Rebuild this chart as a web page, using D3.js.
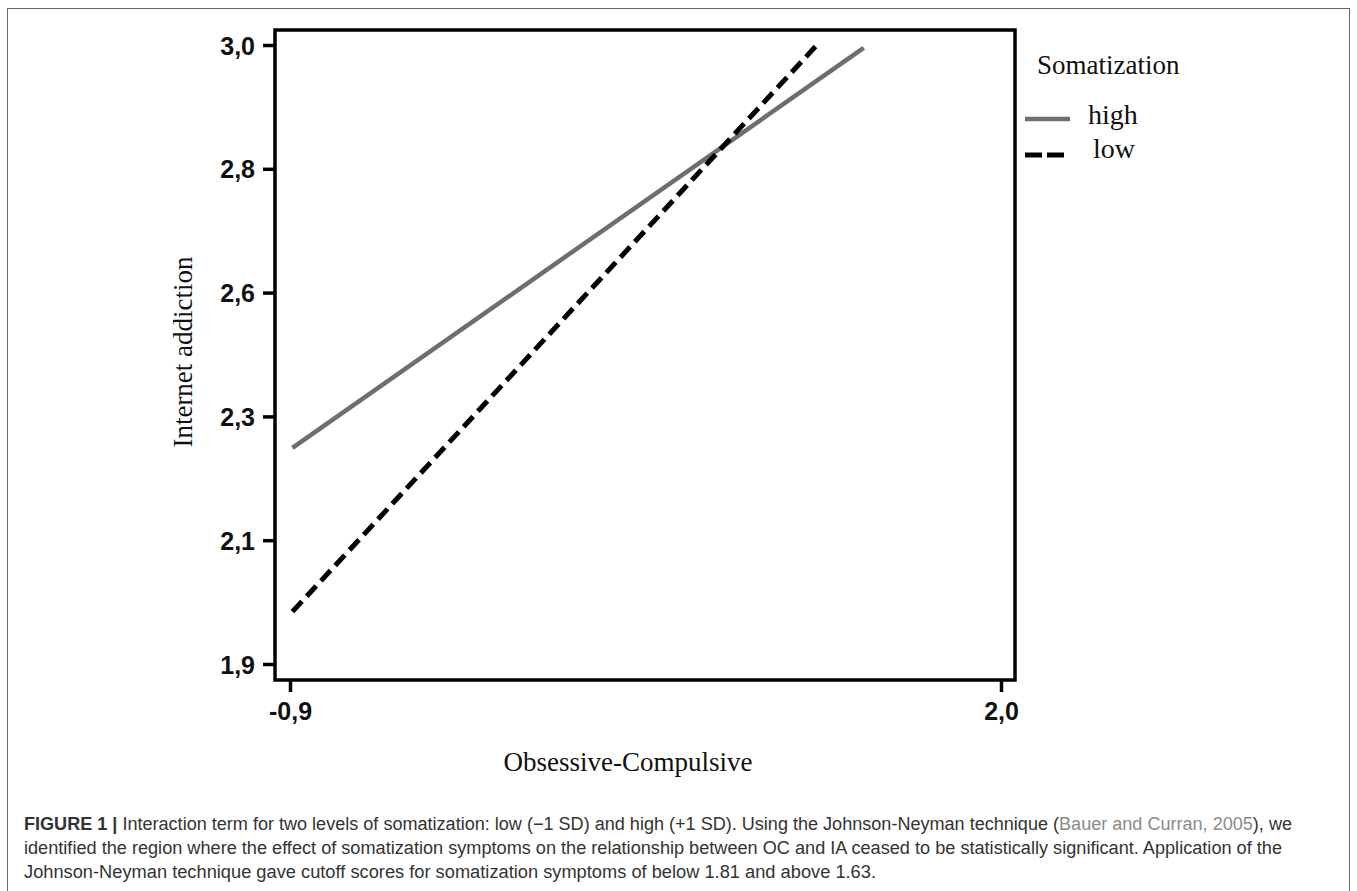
<!DOCTYPE html>
<html><head><meta charset="utf-8">
<script src="https://cdn.jsdelivr.net/npm/d3@7/dist/d3.min.js"></script>
<style>
html,body{margin:0;padding:0;background:#fff;}
svg{display:block;}
</style></head>
<body>
<svg id="chart" width="1357" height="891"></svg>
<script>
// ---- data ----
const seriesNames = ["high", "low"];
const highX = [-0.89, 1.44];
const highY = [2.284, 2.995];
const lowX = [-0.89, 1.245];
const lowY = [1.993, 2.998];
const yTickValues = [1.9, 2.12, 2.34, 2.56, 2.78, 3.0];
const yTickLabels = ["1,9", "2,1", "2,3", "2,6", "2,8", "3,0"];
const xTickValues = [-0.9, 2.0];
const xTickLabels = ["-0,9", "2,0"];
const xTitle = "Obsessive-Compulsive";
const yTitle = "Internet addiction";
const legendTitle = "Somatization";
const captionLines = [
  [["b","FIGURE 1 | "],["t","Interaction term for two levels of somatization: low (\u22121 SD) and high (+1 SD). Using the Johnson-Neyman technique ("],["l","Bauer and Curran, 2005"],["t","), we"]],
  [["t","identified the region where the effect of somatization symptoms on the relationship between OC and IA ceased to be statistically significant. Application of the"]],
  [["t","Johnson-Neyman technique gave cutoff scores for somatization symptoms of below 1.81 and above 1.63."]]
];

// ---- layout ----
const svg = d3.select("#chart");
const frame = {l: 275, r: 1015, t: 30, b: 680};
const x = d3.scaleLinear().domain([-0.9, 2.0]).range([290, 1001]);
const y = d3.scaleLinear().domain([1.9, 3.0]).range([664, 45]);

// outer border
svg.append("rect").attr("x", 7.5).attr("y", 8.5).attr("width", 1342).attr("height", 900)
  .attr("fill", "none").attr("stroke", "#666").attr("stroke-width", 1);

// frame
svg.append("rect").attr("x", frame.l).attr("y", frame.t)
  .attr("width", frame.r - frame.l).attr("height", frame.b - frame.t)
  .attr("fill", "none").attr("stroke", "#000").attr("stroke-width", 3.5);

// y axis
const yAxis = d3.axisLeft(y).tickValues(yTickValues)
  .tickFormat((d, i) => yTickLabels[i]).tickSize(12).tickPadding(8);
const gy = svg.append("g").attr("transform", `translate(${frame.l},0)`).call(yAxis);
gy.select(".domain").remove();
gy.selectAll(".tick line").attr("stroke", "#000").attr("stroke-width", 3.5);
gy.selectAll(".tick text").attr("font-family", "Liberation Sans, Arial, sans-serif")
  .attr("font-weight", "bold").attr("font-size", 25).attr("fill", "#111").attr("dy", "0.36em");

// x axis
const xAxis = d3.axisBottom(x).tickValues(xTickValues)
  .tickFormat((d, i) => xTickLabels[i]).tickSize(12).tickPadding(10);
const gx = svg.append("g").attr("transform", `translate(0,${frame.b})`).call(xAxis);
gx.select(".domain").remove();
gx.selectAll(".tick line").attr("stroke", "#000").attr("stroke-width", 3.5);
gx.selectAll(".tick text").attr("font-family", "Liberation Sans, Arial, sans-serif")
  .attr("font-weight", "bold").attr("font-size", 25).attr("fill", "#111");

// axis titles
svg.append("text").attr("x", 628).attr("y", 771).attr("text-anchor", "middle")
  .attr("font-family", "Liberation Serif, Times New Roman, serif").attr("font-size", 27)
  .attr("fill", "#111").text(xTitle);
svg.append("text").attr("transform", "translate(192,352) rotate(-90)").attr("text-anchor", "middle")
  .attr("font-family", "Liberation Serif, Times New Roman, serif").attr("font-size", 27)
  .attr("fill", "#111").text(yTitle);

// lines
const line = d3.line().x(d => x(d[0])).y(d => y(d[1]));
const highData = highX.map((v, i) => [v, highY[i]]);
const lowData = lowX.map((v, i) => [v, lowY[i]]);
svg.append("path").datum(highData).attr("d", line).attr("fill", "none")
  .attr("stroke", "#6e6e6e").attr("stroke-width", 4.5);
svg.append("path").datum(lowData).attr("d", line).attr("fill", "none")
  .attr("stroke", "#000").attr("stroke-width", 5).attr("stroke-dasharray", "14,7");

// legend
svg.append("text").attr("x", 1037).attr("y", 74)
  .attr("font-family", "Liberation Serif, Times New Roman, serif").attr("font-size", 27)
  .attr("fill", "#111").text(legendTitle);
svg.append("line").attr("x1", 1025).attr("x2", 1070).attr("y1", 119).attr("y2", 119)
  .attr("stroke", "#6e6e6e").attr("stroke-width", 4.5);
svg.append("text").attr("x", 1088).attr("y", 124)
  .attr("font-family", "Liberation Serif, Times New Roman, serif").attr("font-size", 28)
  .attr("fill", "#111").text(seriesNames[0]);
svg.append("line").attr("x1", 1025).attr("x2", 1065).attr("y1", 155).attr("y2", 155)
  .attr("stroke", "#000").attr("stroke-width", 5).attr("stroke-dasharray", "17,5");
svg.append("text").attr("x", 1093).attr("y", 158)
  .attr("font-family", "Liberation Serif, Times New Roman, serif").attr("font-size", 28)
  .attr("fill", "#111").text(seriesNames[1]);

// caption
const capY = [830, 854, 878];
const capW = [1268, 1258, 852];
captionLines.forEach((parts, i) => {
  const t = svg.append("text").attr("x", 24).attr("y", capY[i])
    .attr("font-family", "Liberation Sans, Arial, Helvetica, sans-serif")
    .attr("font-size", 18).attr("fill", "#333");
  parts.forEach(p => {
    const ts = t.append("tspan").text(p[1]);
    if (p[0] === "b") ts.attr("font-weight", "bold");
    if (p[0] === "l") ts.attr("fill", "#8a8a8a");
  });
  const w = t.node().getComputedTextLength();
  if (Math.abs(w - capW[i]) / capW[i] < 0.12) {
    t.attr("textLength", capW[i]).attr("lengthAdjust", "spacingAndGlyphs");
  }
});
</script>
</body></html>
